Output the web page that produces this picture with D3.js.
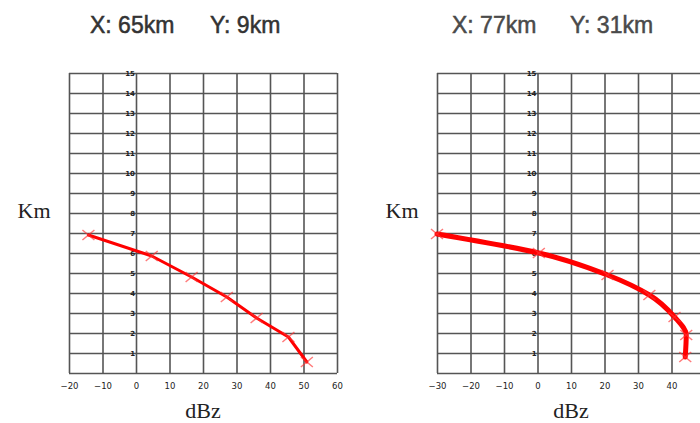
<!DOCTYPE html>
<html>
<head>
<meta charset="utf-8">
<script src="https://cdn.jsdelivr.net/npm/d3@7"></script>
<style>
  body { margin: 0; background: #fff; }
  .grid line, .grid path { stroke: #555; stroke-width: 1.6; }
  .tick text { fill: #222; }
</style>
</head>
<body>
<div id="chart"></div>
<script>
// data
var yTicks = [1, 2, 3, 4, 5, 6, 7, 8, 9, 10, 11, 12, 13, 14, 15];

var leftTitle = ["X: 65km", "Y: 9km"];
var leftXTicks = [-20, -10, 0, 10, 20, 30, 40, 50, 60];
var leftDbz = [-14.2, 4.7, 16.6, 27.1, 36.0, 45.5, 51.0];
var leftKm  = [6.9, 5.85, 4.8, 3.8, 2.75, 1.8, 0.55];

var rightTitle = ["X: 77km", "Y: 31km"];
var rightXTicks = [-30, -20, -10, 0, 10, 20, 30, 40, 50];
var rightDbz = [-30, 0.4, 20.9, 33.4, 40.9, 44.4, 44.1];
var rightKm  = [6.95, 6.0, 4.9, 3.9, 2.8, 1.9, 0.8];

var svgWidth = 700;
var svgHeight = 423;

var svg = d3.select("#chart").append("svg")
    .attr("width", svgWidth)
    .attr("height", svgHeight);

function drawPanel(opt) {
    var xScale = d3.scaleLinear().domain([opt.xTicks[0], opt.xTicks[opt.xTicks.length - 1]])
        .range([opt.left, opt.left + 268]);
    var yScale = d3.scaleLinear().domain([0, 15]).range([373, 73]);

    var g = svg.append("g");

    // title (two parts)
    opt.title.forEach(function (t, i) {
        g.append("text")
            .attr("x", opt.titleX[i]).attr("y", 33)
            .attr("font-family", "Liberation Sans, Arial, sans-serif")
            .attr("font-size", 23)
            .attr("fill", opt.titleColor)
            .attr("stroke", opt.titleColor)
            .attr("stroke-width", 0.5)
            .text(t);
    });

    // vertical grid lines
    g.append("g")
        .attr("class", "grid")
        .attr("transform", "translate(0,373)")
        .call(d3.axisBottom(xScale).tickValues(opt.xTicks).tickSize(-300).tickFormat(""))
        .call(function (s) { s.select(".domain").remove(); });

    // horizontal grid lines
    g.append("g")
        .attr("class", "grid")
        .attr("transform", `translate(${xScale.range()[0]},0)`)
        .call(d3.axisLeft(yScale).tickValues([0].concat(yTicks)).tickSize(-268).tickFormat(""))
        .call(function (s) { s.select(".domain").remove(); });

    // x tick labels
    g.append("g")
        .attr("transform", "translate(0,373)")
        .call(d3.axisBottom(xScale).tickValues(opt.xTicks).tickSize(0).tickPadding(10))
        .call(function (s) {
            s.select(".domain").remove();
            s.selectAll("text").attr("font-size", 8.5).attr("font-family", "DejaVu Sans, sans-serif");
        });

    // y tick labels at x = 0
    g.append("g")
        .attr("transform", `translate(${xScale(0) - 1},0)`)
        .call(d3.axisLeft(yScale).tickValues(yTicks).tickSize(0).tickPadding(0))
        .call(function (s) {
            s.select(".domain").remove();
            s.selectAll("text").attr("font-size", 7).attr("font-weight", "bold")
                .attr("font-family", "DejaVu Sans, sans-serif");
        });

    // axis titles
    g.append("text")
        .attr("x", opt.left - 35).attr("y", 218)
        .attr("text-anchor", "middle")
        .attr("font-family", "Liberation Serif, Times New Roman, serif")
        .attr("font-size", 22)
        .attr("fill", "#222")
        .text("Km");
    g.append("text")
        .attr("x", opt.left + 134).attr("y", 418)
        .attr("text-anchor", "middle")
        .attr("font-family", "Liberation Serif, Times New Roman, serif")
        .attr("font-size", 22)
        .attr("fill", "#222")
        .text("dBz");

    var points = opt.dbz.map(function (d, i) { return [d, opt.km[i]]; });

    var line = d3.line()
        .x(function (d) { return xScale(d[0]); })
        .y(function (d) { return yScale(d[1]); })
        .curve(opt.curve);

    g.append("path")
        .datum(points)
        .attr("fill", "none")
        .attr("stroke", "#ff0000")
        .attr("stroke-width", opt.lineWidth)
        .attr("stroke-linejoin", "round")
        .attr("stroke-linecap", "round")
        .attr("d", line);

    // x markers
    g.selectAll(".mark")
        .data(points)
        .enter()
        .append("path")
        .attr("class", "mark")
        .attr("transform", function (d) { return `translate(${xScale(d[0])},${yScale(d[1])})`; })
        .attr("d", "M-6,-5L6,5M-6,5L6,-5")
        .attr("stroke", "#ff3333")
        .attr("stroke-opacity", 0.65)
        .attr("stroke-width", 1.5)
        .attr("fill", "none");
}

drawPanel({
    left: 69, xTicks: leftXTicks, dbz: leftDbz, km: leftKm,
    title: leftTitle, titleX: [90, 210], titleColor: "#333",
    lineWidth: 3, curve: d3.curveLinear
});

drawPanel({
    left: 437, xTicks: rightXTicks, dbz: rightDbz, km: rightKm,
    title: rightTitle, titleX: [452, 570], titleColor: "#4a4a4a",
    lineWidth: 5, curve: d3.curveMonotoneY
});
</script>
</body>
</html>
